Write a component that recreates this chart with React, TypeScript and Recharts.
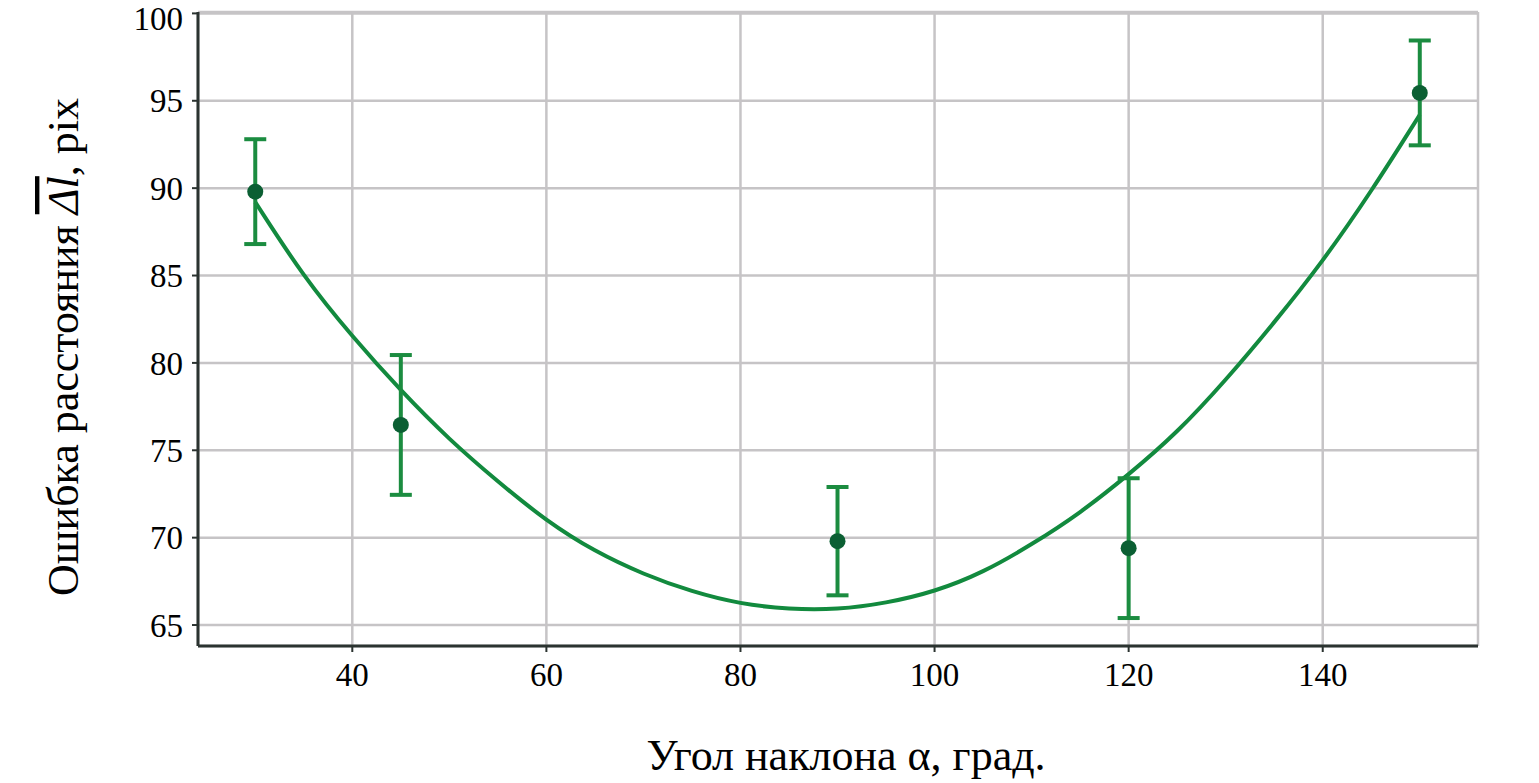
import React from "react";
import {
  ComposedChart,
  Line,
  Scatter,
  ErrorBar,
  XAxis,
  YAxis,
  CartesianGrid,
  Label,
} from "recharts";

// Measured points (angle, mean error, error half-width)
const angles = [30, 45, 90, 120, 150];
const meanErrors = [89.8, 76.45, 69.8, 69.4, 95.45];
const errHalf = [3.0, 4.0, 3.1, 4.0, 3.0];

// Fitted curve
const curveX = [30, 35, 40, 45, 50, 55, 60, 65, 70, 75, 80, 85, 90, 95, 100, 105, 110, 115, 120, 125, 130, 135, 140, 145, 150];
const curveY = [89.2, 84.9, 81.5, 78.4, 75.6, 73.2, 70.95, 69.2, 67.9, 66.9, 66.2, 65.9, 65.88, 66.25, 66.9, 68.0, 69.6, 71.4, 73.6, 76.0, 79.0, 82.3, 85.8, 89.8, 94.2];

const xTicks = [40, 60, 80, 100, 120, 140];
const yTicks = [65, 70, 75, 80, 85, 90, 95, 100];

const pointData = angles.map((a, i) => ({ x: a, y: meanErrors[i], err: errHalf[i] }));
const curveData = curveX.map((a, i) => ({ x: a, y: curveY[i] }));

const FONT = "'Liberation Serif', 'Times New Roman', serif";
const AXIS = "#2b3330";
const GRID = "#c6c4c6";
const CURVE = "#128a3e";
const BAR = "#1b8c40";
const DOT = "#0b5f33";

const Dot = (props: any) => {
  const { cx, cy } = props;
  if (cx == null || cy == null) return null;
  return <circle cx={cx} cy={cy} r={8} fill={DOT} />;
};

const XTitle = () => (
  <text x={846} y={770} textAnchor="middle" fontFamily={FONT} fontSize={44} fill="#000">
    Угол наклона α, град.
  </text>
);

const YTitle = () => (
  <text
    x={0}
    y={0}
    transform="translate(78,347) rotate(-90)"
    textAnchor="middle"
    fontFamily={FONT}
    fontSize={44}
    fill="#000"
  >
    <tspan>Ошибка расстояния </tspan>
    <tspan fontStyle="italic" textDecoration="overline">Δl</tspan>
    <tspan>, pix</tspan>
  </text>
);

export default function App() {
  return (
    <div style={{ position: "absolute", left: 0, top: 0, width: 1539, height: 783, background: "#fff" }}>
      <ComposedChart
        width={1539}
        height={783}
        margin={{ top: 12, right: 61, left: 98, bottom: 77 }}
      >
        <CartesianGrid stroke={GRID} strokeWidth={2.5} />
        <XAxis
          dataKey="x"
          type="number"
          domain={[24.1, 156]}
          allowDataOverflow
          ticks={xTicks}
          height={60}
          tickSize={6}
          tickMargin={11}
          axisLine={{ stroke: AXIS, strokeWidth: 3 }}
          tickLine={{ stroke: AXIS, strokeWidth: 2 }}
          tick={{ fontFamily: FONT, fontSize: 33, fill: "#000" }}
        >
          <Label content={<XTitle />} />
        </XAxis>
        <XAxis
          xAxisId="top"
          orientation="top"
          type="number"
          domain={[24.1, 156]}
          height={0}
          tick={false}
          tickLine={false}
          axisLine={{ stroke: AXIS, strokeWidth: 3 }}
        />
        <YAxis
          type="number"
          domain={[63.8, 100.08]}
          allowDataOverflow
          ticks={yTicks}
          width={100}
          tickSize={6}
          tickMargin={9}
          axisLine={{ stroke: AXIS, strokeWidth: 3 }}
          tickLine={{ stroke: AXIS, strokeWidth: 2 }}
          tick={{ fontFamily: FONT, fontSize: 33, fill: "#000" }}
        >
          <Label content={<YTitle />} />
        </YAxis>
        <YAxis
          yAxisId="right"
          orientation="right"
          type="number"
          domain={[63.8, 100.08]}
          width={0}
          tick={false}
          tickLine={false}
          axisLine={{ stroke: AXIS, strokeWidth: 3 }}
        />
        <Line
          data={curveData}
          dataKey="y"
          type="basis"
          stroke={CURVE}
          strokeWidth={4}
          dot={false}
          activeDot={false}
          isAnimationActive={false}
        />
        <Scatter data={pointData} dataKey="y" shape={<Dot />} isAnimationActive={false}>
          <ErrorBar
            dataKey="err"
            direction="y"
            width={11}
            stroke={BAR}
            strokeWidth={4}
            isAnimationActive={false}
          />
        </Scatter>
      </ComposedChart>
    </div>
  );
}
